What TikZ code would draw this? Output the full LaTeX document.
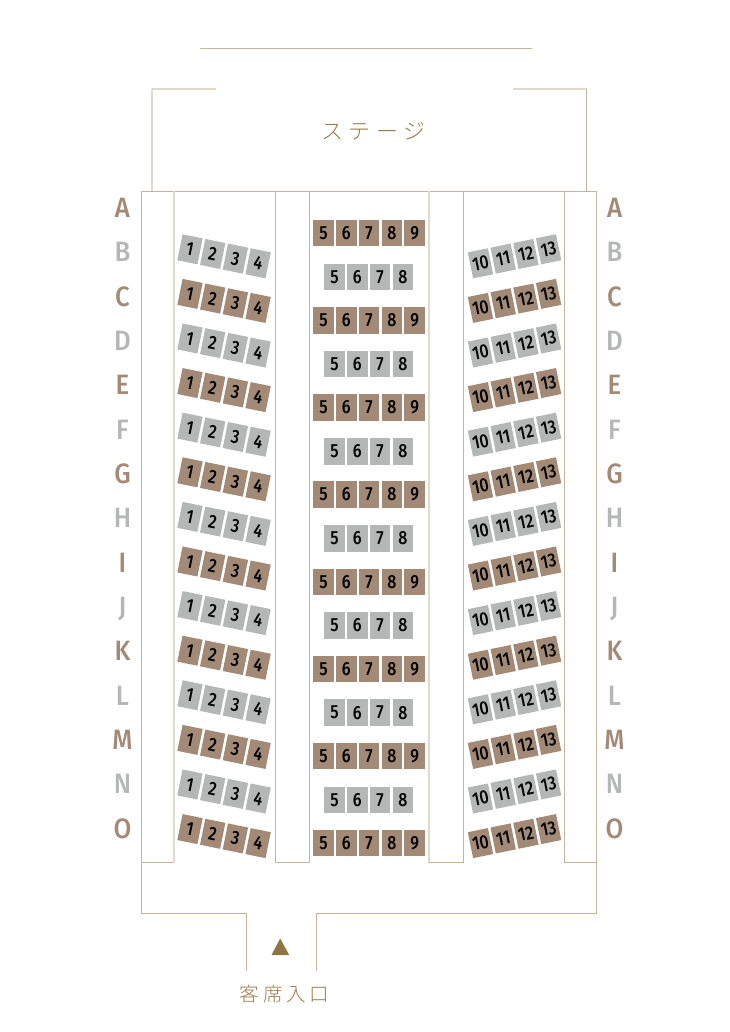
\documentclass[tikz,border=0pt]{standalone}
\usepackage{fontspec}
\usepackage{tikz}
\setmainfont{Fira Sans Medium}
\newfontfamily\seatfont[FakeStretch=0.84]{Fira Sans Medium}
\newfontfamily\rowfont[FakeStretch=0.92]{Fira Sans Medium}
\newfontfamily\jpfont{Noto Sans CJK JP Light}
\definecolor{linetan}{HTML}{C4B49C}
\definecolor{linepale}{HTML}{E0D9CC}
\definecolor{seatbrown}{HTML}{A38A76}
\definecolor{seatgray}{HTML}{B5B6B6}
\definecolor{jptext}{HTML}{9A7B4A}
\definecolor{arrowgold}{HTML}{8F7444}

\begin{document}
\begin{tikzpicture}[x=1pt,y=-1pt]
          \tikzstyle{wall} = [draw=linetan, line width=0.8pt]
          \tikzstyle{palewall} = [draw=linepale, line width=1.2pt]
          \tikzstyle{seat} = [rectangle, minimum width=20.5pt, minimum height=26.5pt, inner sep=0pt, font=\seatfont\fontsize{19}{19}\selectfont, text=black]
          \tikzstyle{brownseat} = [seat, fill=seatbrown]
          \tikzstyle{grayseat} = [seat, fill=seatgray]
          \tikzstyle{rowname} = [inner sep=0pt, anchor=base, font=\rowfont\fontsize{28}{28}\selectfont]
          \tikzstyle{jplabel} = [inner sep=0pt, text=jptext]

          \useasboundingbox (0,0) rectangle (729,1032);

          % stage
          \draw[wall] (200,48.5) -- (532,48.5);
          \draw[palewall] (216,89) -- (152,89);
          \draw[palewall] (513,89) -- (586.5,89);
          \draw[palewall] (152,89) -- (152,191.5);
          \draw[wall] (586.5,89) -- (586.5,191.5);
          \node[jplabel, font=\jpfont\fontsize{22}{22}\selectfont\addfontfeature{LetterSpace=26}] (stage) at (373.5,131.5) {ステージ};

          % hall
          \draw[wall] (141.5,191.5) -- (596.5,191.5);
          \draw[wall] (141.5,191.5) -- (141.5,913.5) -- (246.5,913.5) -- (246.5,971);
          \draw[wall] (596.5,191.5) -- (596.5,913.5) -- (316.5,913.5) -- (316.5,971);
          \draw[wall] (141.5,862.5) -- (174,862.5);
          \draw[palewall] (174,191.5) -- (174,862.5);
          \draw[wall] (275.5,191.5) -- (275.5,862.5) -- (309.5,862.5) -- (309.5,191.5);
          \draw[palewall] (429,191.5) -- (429,862.5);
          \draw[wall] (429,862.5) -- (463.5,862.5) -- (463.5,191.5);
          \draw[wall] (564.5,191.5) -- (564.5,862.5) -- (596.5,862.5);

          % row names
          \foreach \name/\r in {A/0,C/2,E/4,G/6,I/8,K/10,M/12,O/14} {
            \node[rowname, text=seatbrown] (ln\name) at (122.5,217.3+44.36*\r) {\name};
            \node[rowname, text=seatbrown] (rn\name) at (614.5,217.3+44.36*\r) {\name};
          }
          \foreach \name/\r in {B/1,D/3,F/5,H/7,J/9,L/11,N/13} {
            \node[rowname, text=seatgray] (ln\name) at (122.5,217.3+44.36*\r) {\name};
            \node[rowname, text=seatgray] (rn\name) at (614.5,217.3+44.36*\r) {\name};
          }

          % centre block
          \foreach \r in {0,...,7} {
            \foreach \s in {5,...,9} {
              \node[brownseat] (c\r-\s) at (323.5+22.8*\s-114,233.2+87.14*\r) {\s};
            }
          }
          \foreach \r in {0,...,6} {
            \foreach \s in {5,...,8} {
              \node[grayseat] (d\r-\s) at (334.5+22.8*\s-114,277+87.14*\r) {\s};
            }
          }

          % left and right blocks
          \foreach \r in {0,...,13} {
            \pgfmathtruncatemacro{\odd}{mod(\r,2)}
            \ifnum\odd=0 \tikzset{rowseat/.style={grayseat}} \else \tikzset{rowseat/.style={brownseat}} \fi
            \foreach \s in {1,...,4} {
              \node[rowseat, rotate=-11.5] (l\r-\s) at (190+22.7*\s-22.7,249.3+44.6*\r+4.67*\s-4.67) {\s};
            }
            \foreach \s in {10,...,13} {
              \node[rowseat, rotate=11.5] (r\r-\s) at (480.5+22.7*\s-227,263.3+44.6*\r-4.67*\s+46.7) {\s};
            }
          }

          % entrance
          \fill[arrowgold] (280.2,938.5) -- (289.2,955) -- (271.5,955) -- cycle;
          \node[jplabel, font=\jpfont\fontsize{19.5}{19.5}\selectfont\addfontfeature{LetterSpace=20}] (entrance) at (284.5,994) {客席入口};
        \end{tikzpicture}
\end{document}
